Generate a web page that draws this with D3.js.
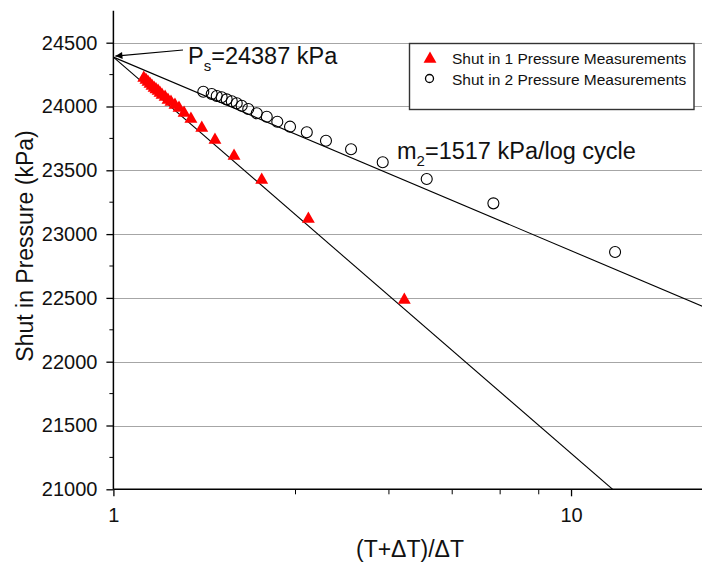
<!DOCTYPE html>
<html>
<head>
<meta charset="utf-8">
<script src="https://d3js.org/d3.v7.min.js"></script>
<style>
  body { margin: 0; background: #fff; }
  svg { display: block; font-family: "Liberation Sans", Arial, sans-serif; }
</style>
</head>
<body>
<svg id="chart" width="702" height="566"></svg>
<script>
// shut in 1 measurements (red triangles)
var shut1X = [1.165, 1.178, 1.190, 1.202, 1.214, 1.227, 1.239, 1.252, 1.264, 1.277, 1.297, 1.316,
  1.336, 1.363, 1.391, 1.427, 1.477, 1.560, 1.667, 1.835, 2.109, 2.667, 4.322];
var shut1P = [24223, 24208, 24192, 24176, 24161, 24145, 24133, 24121, 24106, 24090, 24074, 24051,
  24035, 24012, 23988, 23949, 23902, 23831, 23737, 23612, 23424, 23119, 22484];

// shut in 2 measurements (open circles)
var shut2X = [1.572, 1.640, 1.682, 1.724, 1.768, 1.814, 1.860, 1.907, 1.971, 2.057, 2.163, 2.281,
  2.432, 2.646, 2.914, 3.306, 3.877, 4.838, 6.766, 12.48];
var shut2P = [24116, 24098, 24082, 24072, 24056, 24041, 24025, 24006, 23980, 23947, 23920, 23881,
  23842, 23798, 23732, 23665, 23563, 23432, 23241, 22860];

// fitted lines: intercept at (T+dT)/dT = 1 and slope per log cycle
var ps = 24387;
var m1 = 3105;
var m2 = 1517;

var yTicks = [21000, 21500, 22000, 22500, 23000, 23500, 24000, 24500];
var yMinorTicks = [21250, 21750, 22250, 22750, 23250, 23750, 24250];
var xTicks = [1, 10];
var xMinorTicks = [2.5, 4, 5.5, 7, 8.5];

var legendLabels = ["Shut in 1 Pressure Measurements", "Shut in 2 Pressure Measurements"];

var svg = d3.select("#chart");

var x = d3.scaleLog().domain([1, 20]).range([113.4, 708.8]);
var y = d3.scaleLinear().domain([21000, 24750]).range([489.3, 10.8]);

var plotLeft = x(1), plotBottom = y(21000), plotTop = y(24750);

// clip for fit lines
svg.append("defs").append("clipPath").attr("id", "plotClip")
  .append("rect")
  .attr("x", plotLeft).attr("y", plotTop)
  .attr("width", 702 - plotLeft).attr("height", plotBottom - plotTop);

svg.select("defs").append("marker")
  .attr("id", "arrowHead")
  .attr("viewBox", "0 0 10 10")
  .attr("refX", 10).attr("refY", 5)
  .attr("markerWidth", 14).attr("markerHeight", 7)
  .attr("markerUnits", "userSpaceOnUse")
  .attr("orient", "auto")
  .append("path")
  .attr("d", "M0,0 L10,5 L0,10 Z")
  .attr("fill", "#000");

// grid lines
svg.append("g").selectAll("line").data(yTicks.slice(1)).enter().append("line")
  .attr("x1", plotLeft).attr("x2", 702)
  .attr("y1", function(d) { return Math.round(y(d)) + 0.5; })
  .attr("y2", function(d) { return Math.round(y(d)) + 0.5; })
  .attr("stroke", "#a6a6a6")
  .attr("stroke-width", 1.2);

// fit lines
var fitLine = d3.line()
  .x(function(d) { return x(d.x); })
  .y(function(d) { return y(d.p); });

function fitPoints(m) {
  return [1, 20].map(function(v) { return {x: v, p: ps - m * Math.log10(v)}; });
}

var fits = svg.append("g").attr("clip-path", "url(#plotClip)");
[m1, m2].forEach(function(m) {
  fits.append("path")
    .attr("d", fitLine(fitPoints(m)))
    .attr("fill", "none")
    .attr("stroke", "#000")
    .attr("stroke-width", 1.1);
});

// markers
var tri = d3.symbol().type(d3.symbolTriangle).size(72);

svg.append("g").selectAll("path").data(d3.range(shut1X.length)).enter().append("path")
  .attr("d", tri)
  .attr("transform", function(i) { return "translate(" + x(shut1X[i]) + "," + y(shut1P[i]) + ")"; })
  .attr("fill", "#ff0000");

svg.append("g").selectAll("circle").data(d3.range(shut2X.length)).enter().append("circle")
  .attr("cx", function(i) { return x(shut2X[i]); })
  .attr("cy", function(i) { return y(shut2P[i]); })
  .attr("r", 5.5)
  .attr("fill", "none")
  .attr("stroke", "#000")
  .attr("stroke-width", 1.1);

// legend
var legend = svg.append("g");
legend.append("rect")
  .attr("x", 409.5).attr("y", 43.5)
  .attr("width", 284.5).attr("height", 66)
  .attr("fill", "#fff")
  .attr("stroke", "#333")
  .attr("stroke-width", 1.4);
legend.append("path")
  .attr("d", tri)
  .attr("transform", "translate(430,59)")
  .attr("fill", "#ff0000");
legend.append("circle")
  .attr("cx", 429.5).attr("cy", 78.5).attr("r", 4)
  .attr("fill", "none").attr("stroke", "#000").attr("stroke-width", 1.3);
legend.selectAll("text").data(legendLabels).enter().append("text")
  .attr("x", 452)
  .attr("y", function(d, i) { return 63.5 + i * 21; })
  .attr("font-size", 15.5)
  .attr("fill", "#111")
  .text(function(d) { return d; });

// axes
var yAxis = d3.axisLeft(y).tickValues(yTicks).tickSize(7).tickPadding(9)
  .tickFormat(d3.format("d"));
var gy = svg.append("g").attr("transform", "translate(" + plotLeft + ",0)").call(yAxis);
gy.append("g").selectAll("line").data(yMinorTicks).enter().append("line")
  .attr("x1", -4).attr("x2", 0)
  .attr("y1", function(d) { return y(d); })
  .attr("y2", function(d) { return y(d); })
  .attr("stroke", "#000");

var xAxis = d3.axisBottom(x).tickValues(xTicks).tickSize(7).tickPadding(12)
  .tickFormat(d3.format("d"));
var gx = svg.append("g").attr("transform", "translate(0," + plotBottom + ")").call(xAxis);
gx.append("g").selectAll("line").data(xMinorTicks).enter().append("line")
  .attr("x1", function(d) { return x(d); })
  .attr("x2", function(d) { return x(d); })
  .attr("y1", 0).attr("y2", 5)
  .attr("stroke", "#000");

[gx, gy].forEach(function(g) {
  g.select(".domain").attr("stroke", "#000").attr("stroke-width", 1.5);
  g.selectAll(".tick line").attr("stroke", "#000").attr("stroke-width", 1.3);
  g.selectAll(".tick text").attr("font-size", 20).attr("fill", "#111")
    .attr("font-family", "Liberation Sans, Arial, sans-serif");
});
gx.select(".domain").attr("d", "M" + plotLeft + ",0H702");
gy.select(".domain").attr("d", "M0," + plotTop + "V" + plotBottom);

// axis titles
svg.append("text")
  .attr("transform", "translate(33,246) rotate(-90)")
  .attr("text-anchor", "middle")
  .attr("font-size", 23)
  .attr("fill", "#111")
  .text("Shut in Pressure (kPa)");

svg.append("text")
  .attr("x", 410).attr("y", 557)
  .attr("text-anchor", "middle")
  .attr("font-size", 23)
  .attr("fill", "#111")
  .text("(T+ΔT)/ΔT");

// annotations
var psText = svg.append("text").attr("x", 188).attr("y", 64).attr("font-size", 23.5).attr("fill", "#111");
psText.append("tspan").text("P");
psText.append("tspan").attr("font-size", 15).attr("dy", 7).text("s");
psText.append("tspan").attr("dy", -7).text("=" + ps + " kPa");

svg.append("line")
  .attr("x1", 183).attr("y1", 50)
  .attr("x2", x(1) + 2).attr("y2", y(ps) - 1)
  .attr("stroke", "#000")
  .attr("stroke-width", 1.1)
  .attr("marker-end", "url(#arrowHead)");

var mText = svg.append("text").attr("x", 397).attr("y", 159).attr("font-size", 23.5).attr("fill", "#111");
mText.append("tspan").text("m");
mText.append("tspan").attr("font-size", 15).attr("dy", 7).text("2");
mText.append("tspan").attr("dy", -7).text("=" + m2 + " kPa/log cycle");
</script>
</body>
</html>
